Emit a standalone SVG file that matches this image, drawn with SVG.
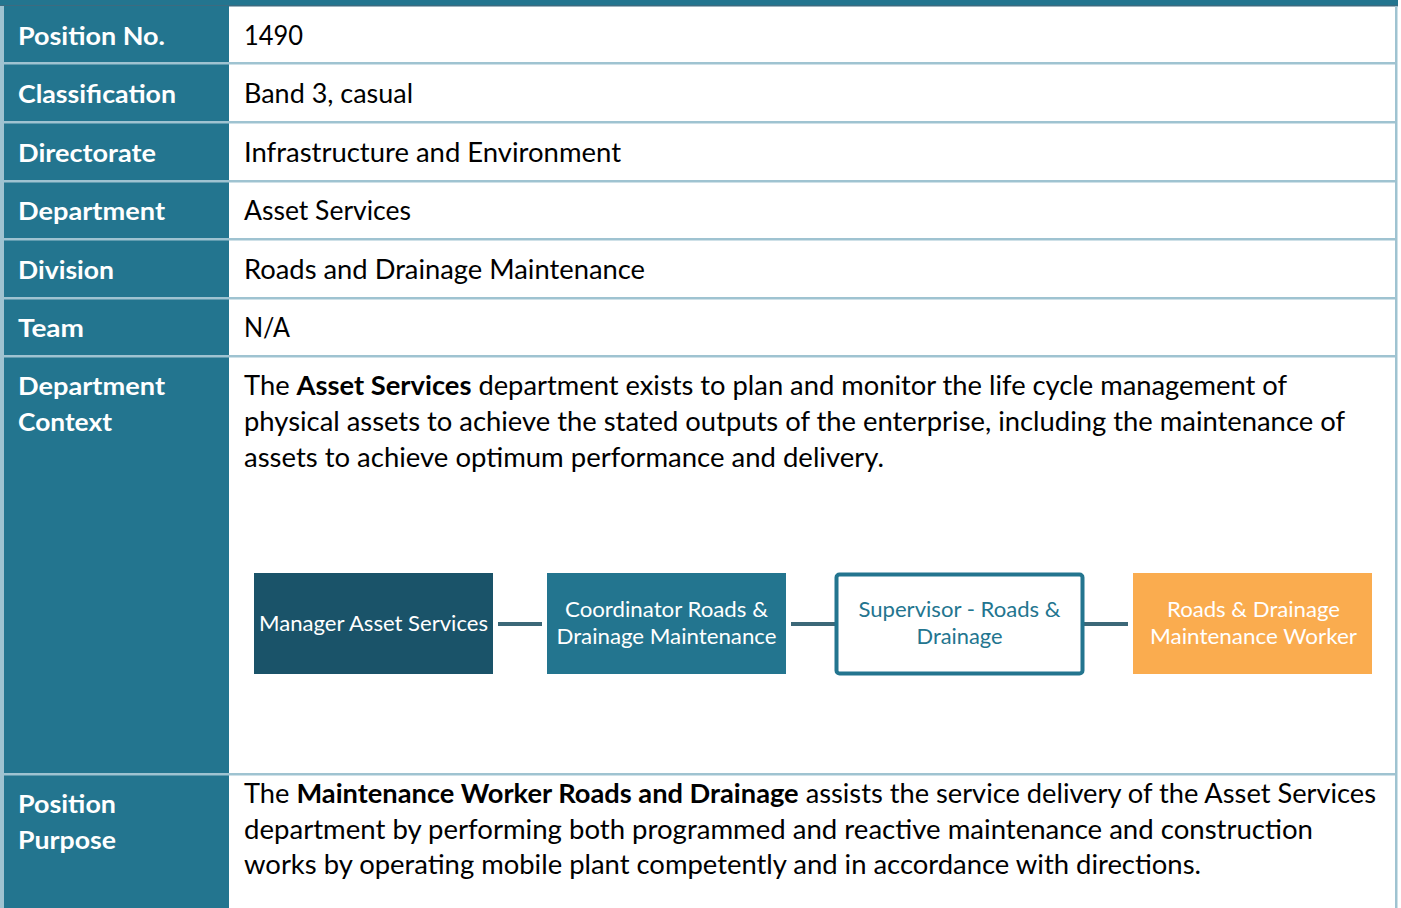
<svg xmlns="http://www.w3.org/2000/svg" width="1401" height="908" viewBox="0 0 1401 908">
<style>
.lbl{font-family:Lato,"Open Sans",sans-serif;font-weight:bold;font-size:24px;fill:#ffffff}
.val{font-family:Lato,"Open Sans",sans-serif;font-size:26px;fill:#000000}
.b{font-weight:bold}
.div{fill:#9fc3d1}
.nt{font-family:Lato,"Open Sans",sans-serif;font-size:21px;text-anchor:middle}
.conn{stroke:#3c6878;stroke-width:4;fill:none}
</style>
<rect x="0" y="0" width="1401" height="908" fill="#ffffff"/>
<g id="table">
<rect x="0" y="0" width="1398" height="6" fill="#23758f"/>
<rect x="0" y="5" width="1398" height="1.5" fill="#3c6b80"/>
<rect x="0" y="6" width="4" height="902" class="div"/>
<rect x="1395" y="6" width="2.5" height="902" class="div"/>
<rect x="4" y="6" width="225" height="902" fill="#23758f"/>
<rect x="0" y="62" width="1397" height="2.5" class="div"/>
<rect x="0" y="121" width="1397" height="2.5" class="div"/>
<rect x="0" y="180" width="1397" height="2.5" class="div"/>
<rect x="0" y="238" width="1397" height="2.5" class="div"/>
<rect x="0" y="297" width="1397" height="2.5" class="div"/>
<rect x="0" y="355" width="1397" height="2.5" class="div"/>
<rect x="0" y="773" width="1397" height="2.5" class="div"/>
</g>
<g id="labels">
<text class="lbl" x="18" y="45" textLength="147" lengthAdjust="spacingAndGlyphs">Position No.</text>
<text class="lbl" x="18" y="103" textLength="158" lengthAdjust="spacingAndGlyphs">Classification</text>
<text class="lbl" x="18" y="162" textLength="138" lengthAdjust="spacingAndGlyphs">Directorate</text>
<text class="lbl" x="18" y="220" textLength="147" lengthAdjust="spacingAndGlyphs">Department</text>
<text class="lbl" x="18" y="279" textLength="96" lengthAdjust="spacingAndGlyphs">Division</text>
<text class="lbl" x="18" y="337" textLength="66" lengthAdjust="spacingAndGlyphs">Team</text>
<text class="lbl" x="18" y="395" textLength="147" lengthAdjust="spacingAndGlyphs">Department</text>
<text class="lbl" x="18" y="431" textLength="94" lengthAdjust="spacingAndGlyphs">Context</text>
<text class="lbl" x="18" y="813" textLength="98" lengthAdjust="spacingAndGlyphs">Position</text>
<text class="lbl" x="18" y="849" textLength="98" lengthAdjust="spacingAndGlyphs">Purpose</text>
</g>
<g id="values">
<text class="val" x="244" y="45" textLength="59" lengthAdjust="spacingAndGlyphs">1490</text>
<text class="val" x="244" y="103" textLength="169" lengthAdjust="spacingAndGlyphs">Band 3, casual</text>
<text class="val" x="244" y="162" textLength="377" lengthAdjust="spacingAndGlyphs">Infrastructure and Environment</text>
<text class="val" x="244" y="220" textLength="167" lengthAdjust="spacingAndGlyphs">Asset Services</text>
<text class="val" x="244" y="279" textLength="401" lengthAdjust="spacingAndGlyphs">Roads and Drainage Maintenance</text>
<text class="val" x="244" y="337" textLength="46" lengthAdjust="spacingAndGlyphs">N/A</text>
<text class="val" x="244" y="395" textLength="1043" lengthAdjust="spacingAndGlyphs">The <tspan class="b">Asset Services</tspan> department exists to plan and monitor the life cycle management of</text>
<text class="val" x="244" y="431" textLength="1101" lengthAdjust="spacingAndGlyphs">physical assets to achieve the stated outputs of the enterprise, including the maintenance of</text>
<text class="val" x="244" y="467" textLength="640" lengthAdjust="spacingAndGlyphs">assets to achieve optimum performance and delivery.</text>
<text class="val" x="244" y="803" textLength="1132" lengthAdjust="spacingAndGlyphs">The <tspan class="b">Maintenance Worker Roads and Drainage</tspan> assists the service delivery of the Asset Services</text>
<text class="val" x="244" y="839" textLength="1069" lengthAdjust="spacingAndGlyphs">department by performing both programmed and reactive maintenance and construction</text>
<text class="val" x="244" y="874" textLength="957" lengthAdjust="spacingAndGlyphs">works by operating mobile plant competently and in accordance with directions.</text>
</g>
<g id="connectors">
<line class="conn" x1="498" y1="624" x2="542" y2="624"/>
<line class="conn" x1="791" y1="624" x2="836" y2="624"/>
<line class="conn" x1="1084" y1="624" x2="1128" y2="624"/>
</g>
<g id="node-manager">
<rect x="254" y="573" width="239" height="101" fill="#1a5369"/>
<text class="nt" x="373.5" y="631" fill="#ffffff" textLength="229" lengthAdjust="spacingAndGlyphs">Manager Asset Services</text>
</g>
<g id="node-coordinator">
<rect x="547" y="573" width="239" height="101" fill="#23758f"/>
<text class="nt" x="666.5" y="617" fill="#ffffff" textLength="203" lengthAdjust="spacingAndGlyphs">Coordinator Roads &amp;</text>
<text class="nt" x="666.5" y="644" fill="#ffffff" textLength="220" lengthAdjust="spacingAndGlyphs">Drainage Maintenance</text>
</g>
<g id="node-supervisor">
<rect x="836.5" y="574.5" width="246" height="99" rx="3" fill="#ffffff" stroke="#23758f" stroke-width="4"/>
<text class="nt" x="959.5" y="617" fill="#23758f" textLength="202" lengthAdjust="spacingAndGlyphs">Supervisor - Roads &amp;</text>
<text class="nt" x="959.5" y="644" fill="#23758f" textLength="86" lengthAdjust="spacingAndGlyphs">Drainage</text>
</g>
<g id="node-worker">
<rect x="1133" y="573" width="239" height="101" fill="#faac4f"/>
<text class="nt" x="1253.5" y="617" fill="#ffffff" textLength="173" lengthAdjust="spacingAndGlyphs">Roads &amp; Drainage</text>
<text class="nt" x="1253.5" y="644" fill="#ffffff" textLength="207" lengthAdjust="spacingAndGlyphs">Maintenance Worker</text>
</g>
</svg>
